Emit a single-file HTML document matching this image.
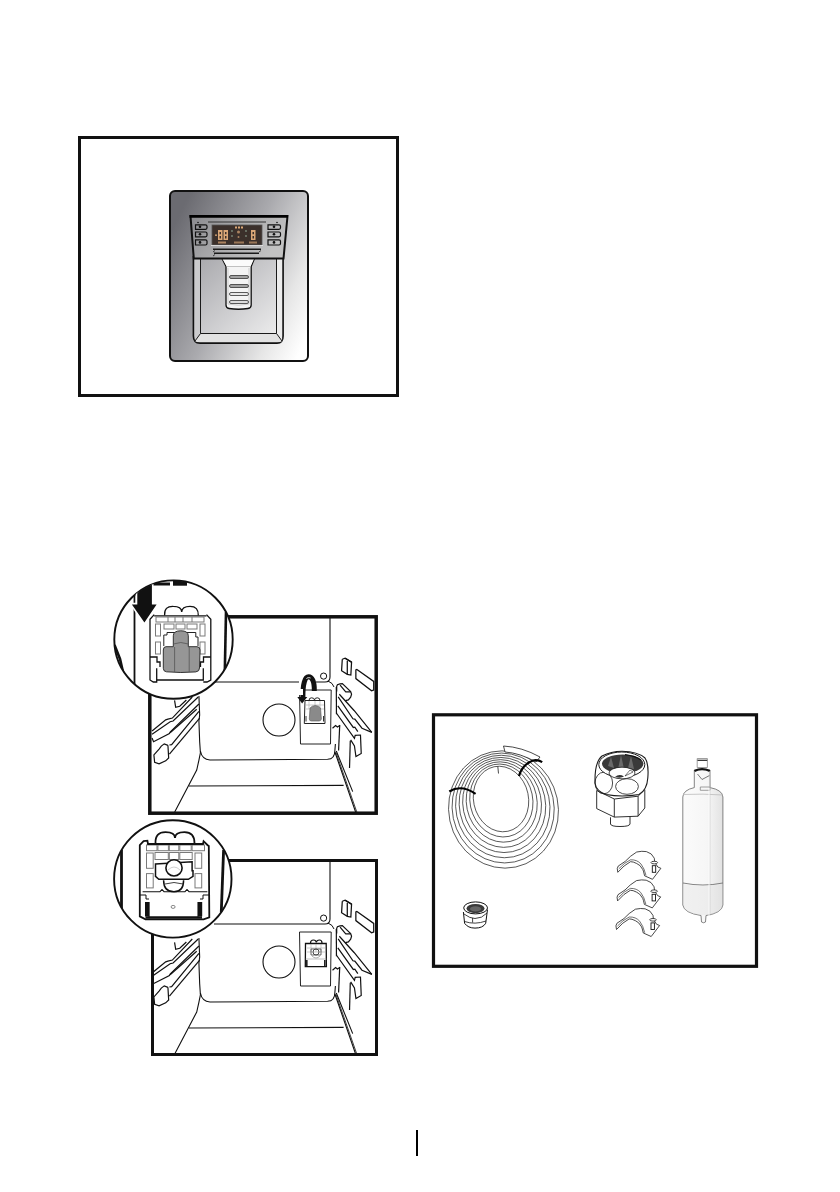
<!DOCTYPE html>
<html><head><meta charset="utf-8">
<style>
html,body{margin:0;padding:0;background:#fff;width:840px;height:1192px;overflow:hidden;font-family:"Liberation Sans",sans-serif;}
svg{position:absolute;left:0;top:0;}
</style></head><body>
<svg width="840" height="1192" viewBox="0 0 840 1192">
<defs>
<linearGradient id="pg" x1="0" y1="0.25" x2="1" y2="0.85">
<stop offset="0" stop-color="#6b6b71"/>
<stop offset="0.45" stop-color="#a9a9ad"/>
<stop offset="0.8" stop-color="#e6e6e6"/>
<stop offset="1" stop-color="#ffffff"/>
</linearGradient>
<linearGradient id="rg" x1="0" y1="0" x2="1" y2="1">
<stop offset="0" stop-color="#a6a6aa"/><stop offset="0.6" stop-color="#d4d4d6"/><stop offset="1" stop-color="#f2f2f2"/>
</linearGradient>
<linearGradient id="bg" x1="0" y1="0" x2="1" y2="0.4">
<stop offset="0" stop-color="#8a8a8e"/><stop offset="0.5" stop-color="#a9a9ab"/><stop offset="1" stop-color="#c2c2c2"/>
</linearGradient>
<linearGradient id="fg" x1="0" y1="0" x2="1" y2="0">
<stop offset="0" stop-color="#fbfbfb"/><stop offset="0.6" stop-color="#f6f6f6"/><stop offset="1" stop-color="#e2e2e2"/>
</linearGradient>
<clipPath id="b2"><rect x="151" y="618" width="224" height="194"/></clipPath>
<clipPath id="c2"><circle cx="173.5" cy="639.6" r="59.2"/></clipPath>
<clipPath id="c3"><circle cx="172.8" cy="878.9" r="58.7"/></clipPath>
<g id="scene">
<path d="M330,612 L330,677 Q330,682 325,682 L214,682" fill="none" stroke="#111" stroke-width="1.1"/>
<path d="M328,681 Q333,683 334,687" fill="none" stroke="#111" stroke-width="1"/>
<circle cx="323.6" cy="676.1" r="3.1" fill="none" stroke="#111" stroke-width="1"/>
<path d="M198.93,695.9 L199.67,715.1 L198.93,721.0 L199.67,741.67 L200.41,752.74 L198.93,760.12 L196.72,770.01 L174.7,812" fill="none" stroke="#111" stroke-width="1.1"/>
<path d="M200.4,751 Q202,759.5 210,760 L327.6,759.3 Q334.9,759 334.9,750.2 L335.4,744" fill="none" stroke="#111" stroke-width="1.1"/>
<path d="M189,786 L343.6,785.4" fill="none" stroke="#111" stroke-width="1.1"/>
<path d="M334.9,752 L355.6,812 M336.3,751 L352.7,791.6" fill="none" stroke="#111" stroke-width="1.1"/>
<path d="M336,752.5 L356.8,812" fill="none" stroke="#111" stroke-width="0.8"/>
<circle cx="279" cy="720" r="16" fill="none" stroke="#111" stroke-width="1.1"/>
<path d="M299.5,690 L331.2,690 L330.5,744 L300.5,744 Z" fill="none" stroke="#222" stroke-width="1"/>
<path d="M174.57,700.33 L175.68,707.35 L179.74,706.24 L186.38,699.96" fill="none" stroke="#111" stroke-width="1.2"/>
<path d="M192.29,697.01 L172.36,718.05 L167.93,719.16 L165.71,719.89 L152.06,730.97" fill="none" stroke="#111" stroke-width="1.2"/>
<path d="M198.19,697.01 L173.1,721.0 L170.14,721.74 L152.06,734.29" fill="none" stroke="#111" stroke-width="1.2"/>
<path d="M198.93,704.02 L170.14,732.07 L169.41,733.55 L153.54,741.67 L152.06,737.98" fill="none" stroke="#111" stroke-width="1.2"/>
<path d="M196.72,709.19 L170.14,732.81" fill="none" stroke="#111" stroke-width="1.2"/>
<path d="M198.93,711.41 L171.62,744.62 L169.41,744.99" fill="none" stroke="#111" stroke-width="1.2"/>
<path d="M199.67,718.05 L169.41,754.22" fill="none" stroke="#111" stroke-width="1.2"/>
<path d="M167.93,745.36 L164.24,743.88 L161.29,746.1 L159.07,749.05 L153.9,754.95 L154.64,762.34 L159.07,763.81 L165.71,760.86 L168.67,757.91 L167.93,745.36" fill="none" stroke="#111" stroke-width="1.2"/>
<path d="M342.29,659.29 L345.14,658.21 L351.57,662.14 L350.86,675.0 L347.29,674.29 L341.57,670.71 L342.29,659.29" fill="none" stroke="#111" stroke-width="1.25"/>
<path d="M345.14,658.21 L351.57,662.14" fill="none" stroke="#111" stroke-width="1.25"/>
<path d="M347.29,660.71 L347.29,674.29" fill="none" stroke="#111" stroke-width="1.25"/>
<path d="M356.57,669.29 L373.71,681.43 L373.71,690.0 L371.57,690.71 L355.86,678.57 L355.86,670.0 L356.57,669.29" fill="none" stroke="#111" stroke-width="1.25"/>
<path d="M336.69,691.6 L336.69,686.31 L337.44,684.65 L340.08,683.89 L342.35,683.66 L350.66,691.6 L351.56,694.24 L350.66,697.26 L348.39,699.9 L345.37,700.66" fill="none" stroke="#111" stroke-width="1.2"/>
<path d="M340.08,685.18 L345.75,691.97 L350.66,691.97" fill="none" stroke="#111" stroke-width="1.2"/>
<path d="M339.33,694.24 L354.06,710.48 L371.81,732.38" fill="none" stroke="#111" stroke-width="1.2"/>
<path d="M338.2,696.88 L352.92,718.79 L354.81,719.16 L361.99,728.23 L371.81,732.38" fill="none" stroke="#111" stroke-width="1.2"/>
<path d="M337.82,705.95 L353.3,727.47 L354.81,727.09 L357.83,731.63" fill="none" stroke="#111" stroke-width="1.2"/>
<path d="M336.69,713.5 L354.44,738.42 L355.19,735.4 L360.48,735.02 L361.23,753.53 L355.95,756.55 L354.44,745.98 L350.66,739.93" fill="none" stroke="#111" stroke-width="1.2"/>
<path d="M336.31,687.06 L336.46,714.25" fill="none" stroke="#111" stroke-width="1.2"/>
<path d="M332.53,728.23 L335.55,725.58 L337.44,727.09 L340.08,725.21" fill="none" stroke="#111" stroke-width="1.2"/>
<path d="M339.71,725.58 L338.57,750.51" fill="none" stroke="#111" stroke-width="1.2"/>
<path d="M350.28,740.69 L349.53,768.03" fill="none" stroke="#111" stroke-width="1.2"/>
</g>
</defs>

<rect x="79.5" y="137.5" width="318" height="258" fill="none" stroke="#111" stroke-width="3"/>
<g id="disp">
<rect x="170" y="191" width="138" height="170" rx="5" fill="url(#pg)" stroke="#111" stroke-width="2"/>
<!-- recess -->
<path d="M193.5,257 L193.5,336 Q193.5,343 200,343 L277,343 Q283,343 283,336 L283,257 Z" fill="url(#rg)" stroke="#111" stroke-width="1.8"/>
<path d="M194.5,258 L200.5,258 L200.5,333.5 L195,341 L194.5,336 Z" fill="#cbcbcd"/>
<path d="M276.5,258 L282.2,258 L282.2,337 L282,341 L276.5,333.5 Z" fill="#ececec"/>
<path d="M200.5,333.5 L276.5,333.5 L282,341 Q281,342.2 277,342.2 L200,342.2 Q196,342.2 195,341 Z" fill="#e2e2e2"/>
<path d="M200.5,258 L200.5,333.5 L276.5,333.5 L276.5,258" fill="none" stroke="#1a1a1a" stroke-width="1"/>
<path d="M200.5,333.5 L195,341 M276.5,333.5 L282,341" stroke="#1a1a1a" stroke-width="1" fill="none"/>
<!-- paddle -->
<path d="M222,258.5 L226,266.5 L226,305 Q226,308 229,308.5 Q238.5,310 248,308.5 Q251.2,308 251.2,305 L251.2,266.5 L254.5,258.5 Z" fill="#f4f4f4" stroke="#111" stroke-width="1.3"/>
<path d="M228,268 L228,304 Q238.5,306.5 249,304 L249,268" fill="none" stroke="#bbb" stroke-width="0.7"/>
<path d="M226.5,266.5 L250.8,266.5" stroke="#999" stroke-width="0.8"/>
<path d="M222.5,259 L254,259 L250.6,266.2 L226.6,266.2 Z" fill="#fbfbfb" stroke="none"/>
<g fill="#a2a2a2" stroke="#333" stroke-width="0.8">
<rect x="229.5" y="275.5" width="19" height="3" rx="1.5"/>
<rect x="229.5" y="284.5" width="19" height="3" rx="1.5"/>
<rect x="229.5" y="292.5" width="19" height="3" rx="1.5" fill="#e8e8e8"/>
<rect x="229.5" y="300.5" width="19" height="3" rx="1.5" fill="#dcdcdc"/>
</g>
<!-- control bezel -->
<path d="M190.5,216 L287.5,216 L283.5,258.6 L193.8,258.6 Z" fill="url(#bg)" stroke="#111" stroke-width="2"/>
<path d="M189.5,216.3 L288,216.3" stroke="#000" stroke-width="2.8"/>
<path d="M208,222 L266,222" stroke="#333" stroke-width="1"/>
<rect x="212" y="225" width="50" height="20" fill="#3b302b" stroke="#555" stroke-width="0.8"/>
<g fill="#dba777">
<path d="M218,230 h4.5 v10 h-4.5 z M219.5,232 v2.2 h1.5 v-2.2z M219.5,236 v2.5 h1.5 v-2.5z" fill-rule="evenodd"/>
<path d="M223.5,230 h4.5 v10 h-4.5 z M225,232 v2.2 h1.5 v-2.2z M225,236 v2.5 h1.5 v-2.5z" fill-rule="evenodd"/>
<path d="M251,230 h4.5 v10 h-4.5 z M252.5,232 v2.2 h1.5 v-2.2z M252.5,236 v2.5 h1.5 v-2.5z" fill-rule="evenodd"/>
<rect x="215" y="234.5" width="2" height="1.3"/>
<rect x="235" y="226.5" width="2" height="2" /><rect x="238" y="226.5" width="2" height="2"/><rect x="241" y="226.5" width="2" height="2"/>
<rect x="218" y="241.5" width="8" height="2" opacity="0.7"/><rect x="234" y="241.5" width="10" height="2" opacity="0.6"/><rect x="249" y="241.5" width="8" height="2" opacity="0.6"/>
<circle cx="238.5" cy="232" r="1.5" opacity="0.7"/><circle cx="238.5" cy="237" r="1" opacity="0.7"/>
</g>
<g fill="#7a8a7a"><circle cx="232" cy="231" r="0.9"/><circle cx="232" cy="236" r="0.9"/><circle cx="246" cy="231" r="0.9"/><circle cx="246" cy="236" r="0.9"/></g>
<path d="M211,245.5 L263,245.5" stroke="#eee" stroke-width="0.8"/>
<path d="M213,249.2 L261,249.2" stroke="#1a1a1a" stroke-width="1.5"/>
<path d="M214,253.2 L259,253.2" stroke="#1a1a1a" stroke-width="1.4"/>
<path d="M213,252 l2,-1.5 M259,252 l2,-1.5 M215,254.5 l-2,1.5" stroke="#222" stroke-width="0.8"/>
<!-- button clusters -->
<g stroke="#111" stroke-width="1.2" fill="none">
<path d="M195.5,224.8 h10 q1.5,0 1.5,1.5 v1.5 q0,1.5 -1.5,1.5 h-10 z"/>
<path d="M195.5,232 h10 q1.5,0 1.5,1.5 v1.8 q0,1.5 -1.5,1.5 h-10 z"/>
<path d="M195.5,239.8 h10 q1.5,0 1.5,1.5 v2.2 q0,1.5 -1.5,1.5 h-10 z"/>
<path d="M268,224.8 h11 q1.5,0 1.5,1.5 v1.5 q0,1.5 -1.5,1.5 h-11 z"/>
<path d="M268,232 h11 q1.5,0 1.5,1.5 v1.8 q0,1.5 -1.5,1.5 h-11 z"/>
<path d="M268,239.8 h11 q1.5,0 1.5,1.5 v2.2 q0,1.5 -1.5,1.5 h-11 z"/>
</g>
<g fill="#111"><circle cx="200" cy="226.8" r="1.3"/><circle cx="200" cy="234.2" r="1.3"/><circle cx="200" cy="242.4" r="1.3"/><circle cx="274" cy="226.8" r="1.3"/><circle cx="274" cy="234.2" r="1.3"/><circle cx="274" cy="242.4" r="1.3"/>
<circle cx="198" cy="222.5" r="0.8"/><circle cx="277" cy="222.5" r="0.8"/></g>
</g>
<g clip-path="url(#b2)"><use href="#scene"/></g>
<!-- curved arrow -->
<rect x="299" y="680" width="17" height="4" fill="#fff"/>
<path d="M314.3,691 C314.6,681 311.8,676.8 308.6,676.8 C304.8,676.8 302.8,684 302.9,697.5" fill="none" stroke="#111" stroke-width="5"/>
<path d="M310.5,678 C309.5,677.5 307.5,677.5 306.5,678.5" fill="none" stroke="#fff" stroke-width="1"/>
<path d="M297.3,697 L307.3,697 L302.1,703.6 Z" fill="#111"/>
<rect x="299" y="689" width="4" height="6" fill="#fff"/>
<!-- mini holder -->
<g fill="none" stroke="#222" stroke-width="1">
<path d="M309,700.5 Q309,697.8 311.5,697.8 Q314.3,697.8 314.5,700 Q314.6,697.8 317.3,697.8 Q320,697.8 320,700.5"/>
<path d="M305,700.5 L324.5,700.5 L325,723.5 L304.3,723.5 Z"/>
<path d="M306,705 h18 M306,709 h18 M309,701 v8 M315,701 v8 M320,701 v8" stroke="#aaa" stroke-width="0.6"/>
</g>
<path d="M310,708 Q312,705.5 315.4,705.5 Q319,705.5 320.5,708 L321.4,719 Q321,721 319,721 L311.5,721 Q309.3,721 309.3,719 Z" fill="#8a8a8a" stroke="#555" stroke-width="0.6"/>
<path d="M306,721.5 L306,716 M323.5,721.5 L323.5,716" stroke="#333" stroke-width="1"/>

<rect x="149.8" y="616.8" width="226.4" height="196.4" fill="none" stroke="#111" stroke-width="3.5"/>
<g clip-path="url(#b3)"><use href="#scene" transform="translate(0,242)"/></g>
<clipPath id="b3"><rect x="154" y="862" width="221" height="192"/></clipPath>
<g fill="none" stroke="#222" stroke-width="0.9">
<path d="M310.5,943 Q310.5,940 313.5,940 Q316,940 316.3,942.5 Q316.6,940 319.5,940 Q322,940 322,943" stroke="#111" stroke-width="1.2"/>
<path d="M305.5,943.5 L326.2,943.5 L326.4,966.7 L305.3,966.7 Z" stroke="#111" stroke-width="1.3"/>
<path d="M307,948 h18 M307,952 h18 M311,944 v8 M316,944 v8 M321,944 v8" stroke="#aaa" stroke-width="0.6"/>
<circle cx="316" cy="952" r="3" stroke="#333" stroke-width="0.9"/>
<path d="M311,949 h10 v6 h-10 z" stroke="#444" stroke-width="0.8"/>
<path d="M312,956 Q316,960 320,956" stroke="#777" stroke-width="0.6"/>
<path d="M305.5,959 h21" stroke="#999" stroke-width="0.6"/>
</g>
<rect x="306" y="960" width="1.6" height="6" fill="#222"/>
<rect x="324" y="960" width="1.6" height="6" fill="#222"/>

<rect x="152.5" y="860.5" width="224" height="194" fill="none" stroke="#111" stroke-width="3"/>
<circle cx="173.5" cy="639.6" r="59.2" fill="#fff" stroke="#111" stroke-width="1.9"/>
<circle cx="172.8" cy="878.9" r="58.7" fill="#fff" stroke="#111" stroke-width="1.9"/>
<!-- MAG 2 content -->
<g clip-path="url(#c2)">
<!-- door edge / frame lines -->
<path d="M134.5,585 L134.5,700" stroke="#111" stroke-width="1.8" fill="none"/>
<path d="M153,584 L170,584" stroke="#111" stroke-width="3" fill="none"/>
<rect x="173" y="580" width="14" height="5.7" fill="#111"/>
<path d="M114.5,645 L120,659 L123,672" stroke="#111" stroke-width="2.6" fill="none"/>
<path d="M226,612 L224.8,672" stroke="#111" stroke-width="2.6" fill="none"/>
<path d="M216,683 L233,683" stroke="#111" stroke-width="1.2" fill="none"/>
<!-- arrow -->
<path d="M137.3,578 L151.9,578 L151.9,604.4 L156.6,604.4 L144.4,622.6 L131.9,604.4 L137.3,604.4 Z" fill="#111" stroke="#fff" stroke-width="3.2" paint-order="stroke" stroke-linejoin="miter"/>

<!-- holder -->
<g fill="none" stroke="#111" stroke-width="1.3">
<path d="M164.6,615.4 Q164,606 173.3,606.3 Q181.5,606.3 181.7,612 Q182,606.3 190,606.3 Q198.6,606.3 198.3,615.4" stroke-width="1.3"/>
<path d="M154.2,614.6 L150,619.2 L150,680 L153.3,682 L156.7,682 L156.7,668.3 M156.7,680 L203.3,680 L203.3,668.3 M203.3,682 L207,682 L210.8,680 L210.8,619.2 L206.5,614.6" />
<path d="M154.2,615.8 L206.5,615.8"/>
<path d="M150,657 L157,657 L157,662 L160,662 L160,667 M210.8,657 L203.5,657 L203.5,662 L200.5,662 L200.5,667"/>
</g>
<g fill="none" stroke="#7a7a7a" stroke-width="1">
<rect x="156" y="617" width="48" height="5"/>
<rect x="164" y="624" width="10" height="5"/><rect x="176" y="624" width="9" height="5"/><rect x="187" y="624" width="10" height="5"/>
<rect x="155.5" y="624" width="5" height="12"/><rect x="200" y="624" width="5" height="12"/>
<rect x="155.5" y="642" width="5" height="12"/><rect x="200" y="642" width="5" height="12"/>
<path d="M168,617 v5 M175,617 v5 M183,617 v5 M192,617 v5"/>
</g>
<path d="M163.8,646 L163.8,635 L167,635 L167,632.5 L195.8,632.5 L195.8,637 L198,637 L198,646" fill="none" stroke="#222" stroke-width="1"/>
<path d="M166,646.7 Q163.3,646.7 163.3,650 L163.3,668.3 Q163.3,671.5 166.5,671.8 L180.8,672.5 L195.8,671.9 Q199.5,671.5 199.5,668 L200,650 Q200,646.7 197,646.7 L188.3,646.7 L188.3,635.8 Q188.3,630.8 180.8,630.8 Q173.3,630.8 173.3,635.8 L173.3,646.7 Z" fill="#969696" stroke="#333" stroke-width="1"/>
<path d="M174.6,647 L174.6,672 M189.2,647 L189.2,672 M173.3,644 Q180.8,641 188.3,644" fill="none" stroke="#555" stroke-width="0.8"/>
</g>
<!-- MAG 3 content -->
<g clip-path="url(#c3)">
<path d="M121.5,850 L121.5,910" stroke="#111" stroke-width="2.8" fill="none"/>
<path d="M223.6,850 L221.3,912" stroke="#111" stroke-width="2.8" fill="none"/>
<path d="M213,924.4 L233,924.4" stroke="#111" stroke-width="1.2" fill="none"/>
<g fill="none" stroke="#7a7a7a" stroke-width="1">
<rect x="146.5" y="845" width="10.5" height="5.7"/><rect x="157.9" y="845" width="10.5" height="5.7"/><rect x="169.3" y="845" width="9.5" height="5.7"/><rect x="179.8" y="845" width="11.4" height="5.7"/><rect x="192.1" y="845" width="12.4" height="5.7"/>
<rect x="146.5" y="853" width="6.7" height="15.3"/><rect x="155" y="852.5" width="13.3" height="7"/><rect x="169.3" y="852.5" width="9.5" height="7"/><rect x="179.8" y="852.5" width="12.4" height="7"/><rect x="195" y="853" width="6.7" height="15.3"/>
<rect x="146.5" y="873.6" width="6.7" height="14.3"/><rect x="195" y="873.6" width="6.7" height="14.3"/>
</g>
<g fill="none" stroke="#111">
<path d="M155.5,843.1 Q155,832.1 165.5,832.1 Q175,832.1 175,838 Q175,832.1 184.5,832.1 Q194.5,832.1 194.5,843.1" stroke-width="1.8"/>
<path d="M139.8,916.4 L139.8,845 L143.6,841.2 L147.4,840.7 L148,844 L203,844 L203.6,841.2 L207.4,845 L208.8,846 L209.3,917.4 L203.6,919.3 L145.5,919.3 Z" stroke-width="1.8"/>
<path d="M155.5,864 L192.1,861.7 L192.1,870.7 L193,870.7 L193,876.4 L188.3,879.3 L158.8,879.3 L155.5,876.4 Z" stroke-width="1.5"/>
<path d="M163.6,880.2 Q163.6,891.7 174,891.7 Q183.6,891.7 183.6,880.2" stroke-width="1.5"/>
<path d="M165,884 Q174,881 183,884" stroke-width="0.8"/>
<path d="M142.6,891.7 L160,891.7 L162,889.5 L164,891.7 L185,891.7 L187,889.5 L189,891.7 L207.4,891.7" stroke-width="1.1"/>
<path d="M140,895 L146,895 L146,899 L149,899 M209,895 L203,895 L203,899 L200,899" stroke-width="1"/>
<path d="M149,902 L149,917 M198,902 L198,917" stroke-width="1"/>
</g>
<circle cx="174" cy="867.9" r="8.1" fill="#fff" stroke="#111" stroke-width="1.6"/>
<path d="M168,870 Q174,864 180,870" fill="none" stroke="#bbb" stroke-width="0.7"/>
<rect x="145" y="902" width="4.3" height="14.4" fill="#111"/>
<rect x="197.9" y="902" width="4.3" height="14.4" fill="#111"/>
<path d="M145.5,917.5 L202,917.5" stroke="#111" stroke-width="2.4"/>
<ellipse cx="173.1" cy="906.9" rx="2" ry="1.5" fill="none" stroke="#555" stroke-width="0.7"/>
</g>

<!-- coil -->
<ellipse cx="501.00" cy="799.00" rx="27.50" ry="33.00" transform="rotate(-12 501.00 799.00)" fill="none" stroke="#222" stroke-width="0.7"/>
<ellipse cx="501.36" cy="800.50" rx="31.40" ry="36.69" transform="rotate(-12 501.36 800.50)" fill="none" stroke="#222" stroke-width="0.7"/>
<ellipse cx="501.71" cy="802.00" rx="35.30" ry="40.37" transform="rotate(-12 501.71 802.00)" fill="none" stroke="#222" stroke-width="0.7"/>
<ellipse cx="502.07" cy="803.50" rx="39.20" ry="44.06" transform="rotate(-12 502.07 803.50)" fill="none" stroke="#222" stroke-width="0.7"/>
<ellipse cx="502.43" cy="805.00" rx="43.10" ry="47.74" transform="rotate(-12 502.43 805.00)" fill="none" stroke="#222" stroke-width="0.7"/>
<ellipse cx="502.79" cy="806.50" rx="47.00" ry="51.43" transform="rotate(-12 502.79 806.50)" fill="none" stroke="#222" stroke-width="0.7"/>
<ellipse cx="503.14" cy="808.00" rx="50.90" ry="55.11" transform="rotate(-12 503.14 808.00)" fill="none" stroke="#222" stroke-width="0.7"/>
<ellipse cx="503.50" cy="809.50" rx="54.80" ry="58.80" transform="rotate(-12 503.50 809.50)" fill="none" stroke="#222" stroke-width="0.7"/>
<!-- tube end top -->
<path d="M503.5,746 L505,752 Q520,753 536,762 L540,757 Q522,747 503.5,746 Z" fill="#fff" stroke="#1a1a1a" stroke-width="0.8"/>
<path d="M497.8,766.5 L498.5,773.5" stroke="#1a1a1a" stroke-width="0.8"/>
<!-- ties -->
<path d="M449.3,791.5 Q461,784 475.6,793.8" fill="none" stroke="#000" stroke-width="2.2"/>
<path d="M519,776 Q522,765 532.9,760.5 Q538,759.5 542.2,762.1" fill="none" stroke="#000" stroke-width="2.2"/>

<!-- fitting -->
<g stroke="#1a1a1a" stroke-width="0.9">
<path d="M610.5,817.3 L610.5,824 Q611,826.5 620,826.5 Q629.5,826.5 630,824 L630,816.5" fill="#fff"/>
<path d="M596.7,790.5 L614.3,799 L638.1,796.2 L644.8,789.5 L644.8,808 L638.1,816.2 L614.3,817.1 L596.7,808.6 Z" fill="#fff"/>
<path d="M614.3,799 L614.3,817.1 M638.1,796.2 L638.1,816.2"/>
<path d="M595,783 Q594.5,762 602,756 Q611,751.2 622,751.2 Q638,751.5 645,758 Q649,764 647.8,778 Q647,790 639,794.5 Q622,797.5 606,794.5 Q596,791 595,783 Z" fill="#fff" stroke-width="1.1"/>
<ellipse cx="603.8" cy="783" rx="8.8" ry="10.8" fill="none" stroke-width="0.8"/>
<ellipse cx="627" cy="786.5" rx="11.4" ry="7.8" fill="none" stroke-width="0.8"/>
<ellipse cx="621.8" cy="764.6" rx="23" ry="12.6" fill="#fff" stroke-width="1"/>
</g>
<ellipse cx="622.7" cy="763.8" rx="20.7" ry="9.3" fill="#3a3a3a"/>
<path d="M608,766 L611,757 L614,768 Z M618,769 L621,755 L624,769 Z M628,768 L631,756 L634,769 Z" fill="#6a6a6a"/>
<path d="M625,754.6 Q636,756 641,760" stroke="#111" stroke-width="1.4" fill="none"/>
<ellipse cx="622" cy="773" rx="13" ry="5.8" fill="#fff" stroke="#1a1a1a" stroke-width="0.8"/>
<path d="M615,777 Q619,773.5 624,776.5 Q621,778.5 615,777 Z" fill="#333"/>
<path d="M625,776 L630,770 L633,772 Z" fill="none" stroke="#1a1a1a" stroke-width="0.6"/>
<!-- filter -->
<g stroke="#555" stroke-width="0.8">
<path d="M697.2,758.5 L707.4,758.5 L707.4,767.5 L697.2,767.5 Z" fill="#fff" stroke="#888"/>
<path d="M697.5,760.3 L707.2,760.3" stroke="#222" stroke-width="1.2"/>
<path d="M694.3,770 L710,770 L710.1,787.6 Q722.5,790 722.9,797 L722.9,905 Q722,913 706,915.5 L705.5,922 Q703.5,923.5 701.5,922 L701,915.5 Q684,913 682.8,905 L682.8,797 Q683.2,790 694.3,787.6 Z" fill="url(#fg)" stroke="#666"/>
<path d="M683,883 Q703,887 722.8,883" fill="none" stroke="#666"/>
<path d="M683,794.5 Q703,793.5 722.8,795" fill="none" stroke="#bbb"/>
<path d="M700.3,787 L710,787 L710,790.3 L700.3,790.3 Z" fill="none" stroke="#888"/>
<path d="M697.5,774 L702,779.5 L709.5,775.5" fill="none" stroke="#555"/>
</g>
<path d="M694.5,771 Q702,767 709.8,771" stroke="#111" stroke-width="2" fill="none"/>
<path d="M683.5,884 Q703,888 722.5,884 L722.5,905 Q722,913 706,915 L701,915 Q684,913 683.5,905 Z" fill="#e2e2e2" opacity="0.4"/>
<path d="M710,771 L710,916" stroke="#c8c8c8" stroke-width="0.6"/>
<path d="M709,788 L709,916" stroke="#fff" stroke-width="0.8"/>

<!-- clips -->
<g transform="translate(0,0)" stroke="#1a1a1a" stroke-width="0.8" fill="#fff">
<path d="M625.3,861.3 Q630,856 636.7,852 Q642,850.8 646.4,851.6 Q652,853 654.3,858.2 L654.7,862.2 L657.8,867 L660.9,868.3 L652.5,879.3 L644.6,875.8 Q643.5,871 642.9,869.7 Q640,864.5 636.7,863.5 Q633,861.5 630.5,861.7 Q624,865 617.8,872.3 Q616.5,868 618.2,866.1 Z"/>
<path d="M618.8,868.8 Q624,862.8 630.5,859.8 Q637,859.5 641,864 Q644.5,868.5 646,875.5" fill="none" stroke="#333" stroke-width="0.7"/>
<rect x="652.3" y="865.7" width="3.4" height="6.6" fill="#fff" stroke="#111" stroke-width="0.9"/>
<ellipse cx="654.3" cy="862.6" rx="3.3" ry="1.3"/>
</g><g transform="translate(-0.2,28.6)" stroke="#1a1a1a" stroke-width="0.8" fill="#fff">
<path d="M625.3,861.3 Q630,856 636.7,852 Q642,850.8 646.4,851.6 Q652,853 654.3,858.2 L654.7,862.2 L657.8,867 L660.9,868.3 L652.5,879.3 L644.6,875.8 Q643.5,871 642.9,869.7 Q640,864.5 636.7,863.5 Q633,861.5 630.5,861.7 Q624,865 617.8,872.3 Q616.5,868 618.2,866.1 Z"/>
<path d="M618.8,868.8 Q624,862.8 630.5,859.8 Q637,859.5 641,864 Q644.5,868.5 646,875.5" fill="none" stroke="#333" stroke-width="0.7"/>
<rect x="652.3" y="865.7" width="3.4" height="6.6" fill="#fff" stroke="#111" stroke-width="0.9"/>
<ellipse cx="654.3" cy="862.6" rx="3.3" ry="1.3"/>
</g><g transform="translate(-1.3,57.2)" stroke="#1a1a1a" stroke-width="0.8" fill="#fff">
<path d="M625.3,861.3 Q630,856 636.7,852 Q642,850.8 646.4,851.6 Q652,853 654.3,858.2 L654.7,862.2 L657.8,867 L660.9,868.3 L652.5,879.3 L644.6,875.8 Q643.5,871 642.9,869.7 Q640,864.5 636.7,863.5 Q633,861.5 630.5,861.7 Q624,865 617.8,872.3 Q616.5,868 618.2,866.1 Z"/>
<path d="M618.8,868.8 Q624,862.8 630.5,859.8 Q637,859.5 641,864 Q644.5,868.5 646,875.5" fill="none" stroke="#333" stroke-width="0.7"/>
<rect x="652.3" y="865.7" width="3.4" height="6.6" fill="#fff" stroke="#111" stroke-width="0.9"/>
<ellipse cx="654.3" cy="862.6" rx="3.3" ry="1.3"/>
</g>

<!-- nut -->
<g stroke="#111" stroke-width="1">
<path d="M463.4,912 L464.6,923.3 Q468,928.1 475,928.1 Q483,928.1 485.7,923.3 L487.5,909.6" fill="#fff"/>
<ellipse cx="475.6" cy="907.9" rx="11.9" ry="6" fill="#fff"/>
<path d="M464,914 Q470,918.5 475,918.5 Q482,918.5 487,913 M472.6,918 L472.6,922.5 M464.5,921.5 Q475,925 486,921" fill="none" stroke-width="0.8"/>
</g>
<ellipse cx="475.5" cy="908.6" rx="9" ry="4.6" fill="#3a3a3a"/>
<ellipse cx="475.5" cy="908.9" rx="5.5" ry="2.6" fill="#666"/>

<rect x="433.5" y="714.8" width="323" height="251.5" fill="none" stroke="#111" stroke-width="3.2"/>
<rect x="416" y="1130" width="2" height="26" fill="#000"/>
</svg></body></html>
